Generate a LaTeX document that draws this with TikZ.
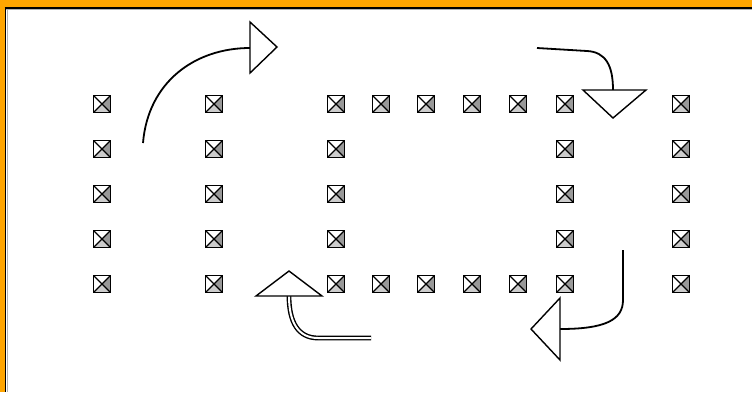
\documentclass[tikz,border=0pt]{standalone}
\begin{document}
\begin{tikzpicture}[x=1pt,y=-1pt,
  sq/.style={draw, line width=1.4pt, minimum size=16.5pt, inner sep=0pt,
    path picture={
      \fill[gray!40] (path picture bounding box.south west) -- (path picture bounding box.center) -- (path picture bounding box.south east) -- cycle;
      \fill[gray!80] (path picture bounding box.south east) -- (path picture bounding box.center) -- (path picture bounding box.north east) -- cycle;
      \draw[line width=1.1pt] (path picture bounding box.south west) -- (path picture bounding box.north east)
            (path picture bounding box.north west) -- (path picture bounding box.south east);
    }},
  shaft/.style={line width=1.8pt},
  head/.style={draw, fill=white, line width=1.4pt, line join=miter}]
\definecolor{frameorange}{RGB}{255,165,0}
\useasboundingbox (0,0) rectangle (752,392);
\fill[white] (0,0) rectangle (752,392);
\fill[frameorange] (0,0) rectangle (752,7);
\fill[frameorange] (0,0) rectangle (4.5,392);
\draw[gray!60, line width=1pt] (6,9.5) -- (752,9.5);
\draw[gray!60, line width=1pt] (7,9) -- (7,392);
\draw[line width=1.8pt] (4.5,7.9) -- (752,7.9);
\draw[line width=1.8pt] (5.4,7) -- (5.4,392);
% squares
\foreach \r/\yy in {1/104,2/149,3/194,4/239,5/284}{
  \node[sq] (a\r) at (102,\yy) {};
  \node[sq] (b\r) at (214,\yy) {};
  \node[sq] (c\r) at (336,\yy) {};
  \node[sq] (h\r) at (565,\yy) {};
  \node[sq] (k\r) at (681,\yy) {};
}
\foreach \i/\xx in {1/381,2/426,3/472,4/518}{
  \node[sq] (t\i) at (\xx,104) {};
  \node[sq] (u\i) at (\xx,284) {};
}
% arrow 1 (top left)
\coordinate (s1) at (143,143);
\coordinate (e1) at (250,48);
\draw[shaft] (s1) .. controls (148,82) and (195,48) .. (e1);
\draw[head] (250,22) -- (277,47) -- (250,73) -- cycle;
% arrow 2 (top right)
\coordinate (s2) at (537,48);
\coordinate (m2) at (587,51);
\coordinate (e2) at (613,90);
\draw[shaft] (s2) -- (m2) .. controls (606,52) and (613,66) .. (e2);
\draw[head] (583,90) -- (646,90) -- (613,118) -- cycle;
% arrow 3 (bottom right)
\coordinate (s3) at (623,250);
\coordinate (m3) at (623,300);
\coordinate (e3) at (560,329);
\draw[shaft] (s3) -- (m3) .. controls (623,320) and (605,329) .. (e3);
\draw[head] (560,298) -- (560,360) -- (531,329) -- cycle;
% arrow 4 (bottom left)
\coordinate (s4) at (371,338);
\coordinate (m4) at (318,338);
\coordinate (e4) at (289,296);
\draw[line width=1.4pt, double=white, double distance=2pt] (s4) -- (m4) .. controls (298,338) and (289,322) .. (e4);
\draw[head] (256,296) -- (322,296) -- (289,271) -- cycle;
\end{tikzpicture}
\end{document}
